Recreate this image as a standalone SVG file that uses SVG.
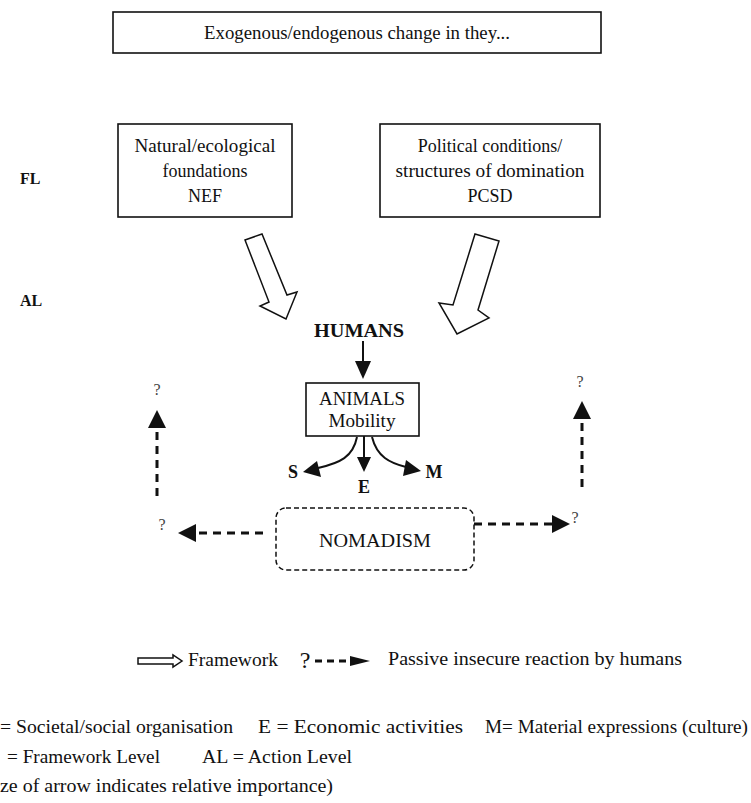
<svg xmlns="http://www.w3.org/2000/svg" width="751" height="803" viewBox="0 0 751 803" font-family="'Liberation Serif', 'Times New Roman', 'DejaVu Serif', serif">
<style>
text{font-family:"Liberation Serif","Times New Roman","DejaVu Serif",serif;fill:#111;}
.t{font-size:18px;text-anchor:middle;}
.b{font-weight:bold;}
.box{fill:#fff;stroke:#111;stroke-width:1.6;}
.dbox{fill:#fff;stroke:#111;stroke-width:1.5;stroke-dasharray:5 3;}
.hollow{fill:#fff;stroke:#111;stroke-width:1.5;stroke-linejoin:miter;}
.solid{fill:none;stroke:#111;stroke-width:2;}
.dash{fill:none;stroke:#111;stroke-width:3;stroke-dasharray:8 6;}
.head{fill:#111;stroke:none;}
.q{font-size:16px;fill:#444;text-anchor:middle;}
.leg{font-size:19px;}
</style>
<rect width="751" height="803" fill="#fff"/>

<g id="top-change">
<rect class="box" x="113" y="12" width="488" height="41"/>
<text class="t" x="357" y="39" textLength="306" lengthAdjust="spacingAndGlyphs">Exogenous/endogenous change in they...</text>
</g>

<g id="level-labels">
<text class="b" x="20" y="184" font-size="16">FL</text>
<text class="b" x="20" y="306" font-size="16">AL</text>
</g>

<g id="nef">
<rect class="box" x="118" y="124" width="174" height="93"/>
<text class="t" x="205" y="152" textLength="141" lengthAdjust="spacingAndGlyphs">Natural/ecological</text>
<text class="t" x="205" y="177">foundations</text>
<text class="t" x="205" y="202">NEF</text>
</g>

<g id="pcsd">
<rect class="box" x="380" y="124" width="220" height="93"/>
<text class="t" x="490" y="152">Political conditions/</text>
<text class="t" x="490" y="177" textLength="189" lengthAdjust="spacingAndGlyphs">structures of domination</text>
<text class="t" x="490" y="202">PCSD</text>
</g>

<g id="humans">
<text class="t b" x="359" y="337" font-size="19" textLength="90" lengthAdjust="spacingAndGlyphs">HUMANS</text>
</g>

<g id="animals">
<rect class="box" x="306" y="383" width="113" height="53"/>
<text class="t" x="362" y="405" textLength="86" lengthAdjust="spacingAndGlyphs">ANIMALS</text>
<text class="t" x="362" y="427" textLength="67" lengthAdjust="spacingAndGlyphs">Mobility</text>
</g>

<g id="sem-labels">
<text class="t b" x="293" y="478" font-size="17">S</text>
<text class="t b" x="364" y="493" font-size="17">E</text>
<text class="t b" x="434" y="478" font-size="17">M</text>
</g>

<g id="nomadism">
<rect class="dbox" x="276" y="508" width="198" height="62" rx="10"/>
<text class="t" x="375" y="547" font-size="19" textLength="112" lengthAdjust="spacingAndGlyphs">NOMADISM</text>
</g>

<g id="question-marks">
<text class="q" x="157" y="395">?</text>
<text class="q" x="162" y="530">?</text>
<text class="q" x="580" y="387">?</text>
<text class="q" x="575" y="523">?</text>
</g>

<g id="connectors">
<path class="hollow" d="M245,240 L262,234 L287,295 L297,292 L286,319 L260,306 L269,302 Z"/>
<path class="hollow" d="M475,234 L499,241 L478,310 L489,318 L457,334 L439,303 L453,305 Z"/>

<line class="solid" x1="363" y1="341" x2="363" y2="362"/>
<polygon class="head" points="355,361 371,361 363,379"/>

<line class="solid" x1="364" y1="436" x2="364" y2="458"/>
<polygon class="head" points="357,457 371,457 364,472"/>
<path class="solid" d="M357,437 C353,457 340,463 318,468"/>
<polygon class="head" points="303,472 317,461 321,477"/>
<path class="solid" d="M372,437 C377,457 390,463 406,467"/>
<polygon class="head" points="421,471 406,460 403,476"/>

<line class="dash" x1="263" y1="533" x2="196" y2="533"/>
<polygon class="head" points="196,524 196,542 178,533"/>
<line class="dash" x1="157" y1="496" x2="157" y2="428"/>
<polygon class="head" points="148,428 166,428 157,410"/>
<line class="dash" x1="474" y1="524" x2="552" y2="524"/>
<polygon class="head" points="552,515 552,533 570,524"/>
<line class="dash" x1="582" y1="487" x2="582" y2="419"/>
<polygon class="head" points="573,419 591,419 582,401"/>
</g>

<g id="legend">
<path class="hollow" d="M138,658 L173,658 L173,655 L182,661 L173,667 L173,664 L138,664 Z"/>
<text class="leg" x="188" y="666" textLength="90" lengthAdjust="spacingAndGlyphs">Framework</text>
<text x="305" y="668" font-size="24" fill="#444" text-anchor="middle">?</text>
<line x1="315" y1="661" x2="350" y2="661" stroke="#111" stroke-width="3" stroke-dasharray="7 5"/>
<polygon class="head" points="350,656 350,666 370,661"/>
<text class="leg" x="388" y="665" textLength="294" lengthAdjust="spacingAndGlyphs">Passive insecure reaction by humans</text>
</g>

<g id="key">
<text class="leg" x="0" y="733" textLength="233" lengthAdjust="spacingAndGlyphs">= Societal/social organisation</text>
<text class="leg" x="258" y="733" textLength="205" lengthAdjust="spacingAndGlyphs">E = Economic activities</text>
<text class="leg" x="485" y="733" textLength="263" lengthAdjust="spacingAndGlyphs">M= Material expressions (culture)</text>
<text class="leg" x="7" y="763" textLength="153" lengthAdjust="spacingAndGlyphs">= Framework Level</text>
<text class="leg" x="202" y="763" textLength="150" lengthAdjust="spacingAndGlyphs">AL = Action Level</text>
<text class="leg" x="0" y="792" textLength="333" lengthAdjust="spacingAndGlyphs">ze of arrow indicates relative importance)</text>
</g>
</svg>
